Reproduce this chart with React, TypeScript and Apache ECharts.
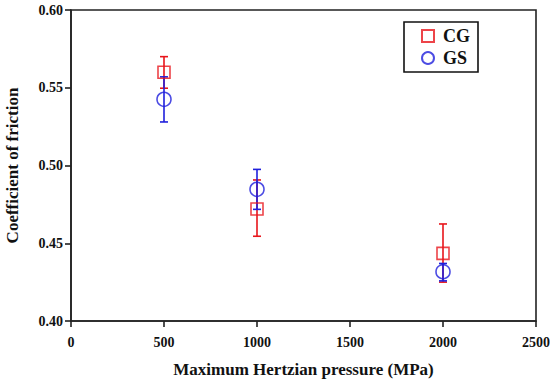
import React, { useEffect, useRef } from "react";
import * as echarts from "echarts";

const pressures = [500, 1000, 2000];
const cgMean = [0.56, 0.472, 0.4435];
const cgLow = [0.5497, 0.4545, 0.425];
const cgHigh = [0.570, 0.4907, 0.4624];
const gsMean = [0.5426, 0.4847, 0.4317];
const gsLow = [0.528, 0.4718, 0.4258];
const gsHigh = [0.557, 0.4975, 0.437];

const xTicks = { min: 0, max: 2500, interval: 500 };
const yTicks = { min: 0.4, max: 0.6, interval: 0.05 };

const RED = "#e8151b";
const BLUE = "#1f1fdc";
const FONT = "Liberation Serif";

function errorSeries(name: string, color: string, low: number[], high: number[]) {
  return {
    name: name + "-err",
    type: "custom",
    silent: true,
    z: 2,
    data: pressures.map((p, i) => [p, low[i], high[i]]),
    encode: { x: 0, y: [1, 2] },
    renderItem: (params: any, api: any) => {
      const x = api.value(0);
      const lo = api.coord([x, api.value(1)]);
      const hi = api.coord([x, api.value(2)]);
      const w = 4;
      const style = { stroke: color, lineWidth: 1.6 };
      return {
        type: "group",
        children: [
          { type: "line", shape: { x1: lo[0], y1: lo[1], x2: hi[0], y2: hi[1] }, style },
          { type: "line", shape: { x1: hi[0] - w, y1: hi[1], x2: hi[0] + w, y2: hi[1] }, style },
          { type: "line", shape: { x1: lo[0] - w, y1: lo[1], x2: lo[0] + w, y2: lo[1] }, style },
        ],
      };
    },
  };
}

export default function App() {
  const ref = useRef<HTMLDivElement>(null);
  useEffect(() => {
    document.body.style.margin = "0";
    const chart = echarts.init(ref.current!, null, { renderer: "svg" });
    const axisLabelStyle = { color: "#111", fontFamily: FONT, fontWeight: "bold", fontSize: 14 };
    chart.setOption({
      animation: false,
      backgroundColor: "#fff",
      grid: {
        left: 71,
        right: 14,
        top: 10,
        bottom: 60,
        containLabel: false,
        outerBoundsMode: "none",
        show: true,
        borderColor: "#222",
        borderWidth: 1.6,
        backgroundColor: "transparent",
      },
      legend: {
        data: [
          { name: "CG", icon: "rect" },
          { name: "GS", icon: "circle" },
        ],
        orient: "vertical",
        left: 404,
        top: 22,
        width: 74,
        height: 50,
        itemWidth: 12,
        itemHeight: 12,
        itemGap: 4,
        padding: [5, 8, 5, 17],
        borderColor: "#111",
        borderWidth: 1.6,
        backgroundColor: "#fff",
        textStyle: { color: "#111", fontFamily: FONT, fontWeight: "bold", fontSize: 18, padding: [0, 0, 0, 4] },
        selectedMode: false,
      },
      xAxis: {
        type: "value",
        min: xTicks.min,
        max: xTicks.max,
        interval: xTicks.interval,
        name: "Maximum Hertzian pressure (MPa)",
        nameLocation: "middle",
        nameGap: 40,
        nameTextStyle: { color: "#111", fontFamily: FONT, fontWeight: "bold", fontSize: 17 },
        axisLine: { show: true, onZero: false, lineStyle: { color: "#222", width: 1.6 } },
        axisTick: { show: true, inside: false, length: 6, lineStyle: { color: "#222", width: 1.6 } },
        axisLabel: { ...axisLabelStyle, margin: 14, formatter: (v: number) => String(v) },
        splitLine: { show: false },
      },
      yAxis: {
        type: "value",
        min: yTicks.min,
        max: yTicks.max,
        interval: yTicks.interval,
        name: "Coefficient of friction",
        nameLocation: "middle",
        nameGap: 50,
        nameTextStyle: { color: "#111", fontFamily: FONT, fontWeight: "bold", fontSize: 17 },
        axisLine: { show: true, lineStyle: { color: "#222", width: 1.6 } },
        axisTick: { show: true, inside: false, length: 6, lineStyle: { color: "#222", width: 1.6 } },
        axisLabel: { ...axisLabelStyle, margin: 8, formatter: (v: number) => v.toFixed(2) },
        splitLine: { show: false },
      },
      series: [
        errorSeries("CG", RED, cgLow, cgHigh),
        {
          name: "CG",
          type: "scatter",
          symbol: "rect",
          symbolSize: 12,
          z: 3,
          data: pressures.map((p, i) => [p, cgMean[i]]),
          itemStyle: { color: "rgba(255,255,255,0)", borderColor: RED, borderWidth: 1.6 },
        },
        errorSeries("GS", BLUE, gsLow, gsHigh),
        {
          name: "GS",
          type: "scatter",
          symbol: "circle",
          symbolSize: 14,
          z: 4,
          data: pressures.map((p, i) => [p, gsMean[i]]),
          itemStyle: { color: "rgba(255,255,255,0)", borderColor: BLUE, borderWidth: 1.6 },
        },
      ],
    });
    return () => chart.dispose();
  }, []);
  return <div ref={ref} style={{ width: 550, height: 381 }} />;
}
